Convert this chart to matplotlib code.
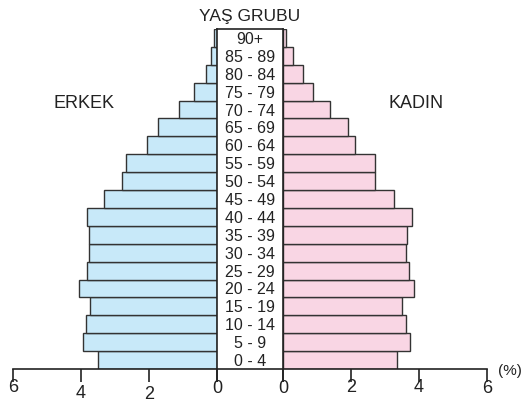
import matplotlib
matplotlib.use("Agg")
import matplotlib.pyplot as plt

plt.rcParams["font.family"] = ["Liberation Sans", "DejaVu Sans"]

# age groups, bottom to top
age_groups = ["0 - 4", "5 - 9", "10 - 14", "15 - 19", "20 - 24", "25 - 29",
              "30 - 34", "35 - 39", "40 - 44", "45 - 49", "50 - 54", "55 - 59",
              "60 - 64", "65 - 69", "70 - 74", "75 - 79", "80 - 84", "85 - 89",
              "90+"]
erkek = [3.51, 3.95, 3.86, 3.74, 4.05, 3.82, 3.76, 3.76, 3.81, 3.31, 2.78,
         2.68, 2.05, 1.73, 1.11, 0.67, 0.33, 0.17, 0.08]
kadin = [3.34, 3.74, 3.63, 3.51, 3.84, 3.71, 3.61, 3.66, 3.78, 3.27, 2.72,
         2.72, 2.11, 1.92, 1.38, 0.89, 0.58, 0.28, 0.09]
tick_vals = [6, 4, 2, 0]

W, H = 522, 403
BLUE = "#c8e9f9"
PINK = "#f9d6e4"
EDGE = "#333333"
TXT = "#222222"

fig = plt.figure(figsize=(W / 100, H / 100), dpi=100)


def px_box(x0, x1, y_top, y_bot):
    return [x0 / W, 1 - y_bot / H, (x1 - x0) / W, (y_bot - y_top) / H]


y_top, y_bot = 29, 369
ax_l = fig.add_axes(px_box(13, 217, y_top, y_bot))
ax_r = fig.add_axes(px_box(283, 487, y_top, y_bot))
ax_c = fig.add_axes(px_box(217, 283, y_top, y_bot))

ypos = [i + 0.5 for i in range(len(age_groups))]

ax_l.barh(ypos, erkek, height=1.0, color=BLUE, edgecolor=EDGE, linewidth=1)
ax_r.barh(ypos, kadin, height=1.0, color=PINK, edgecolor=EDGE, linewidth=1)
ax_l.set_xlim(6, 0)
ax_r.set_xlim(0, 6)

# label offsets below axis (points)
left_off = {6: 13.5, 4: 18, 2: 18.5, 0: 14}
right_off = {0: 14, 2: 13.5, 4: 13.5, 6: 14}

for ax, offs in ((ax_l, left_off), (ax_r, right_off)):
    ax.set_ylim(0, len(age_groups))
    for s in ("top", "left", "right"):
        ax.spines[s].set_visible(False)
    ax.spines["bottom"].set_linewidth(1.2)
    ax.spines["bottom"].set_color("#222222")
    ax.set_yticks([])
    ax.set_xticks(tick_vals)
    ax.set_xticklabels([])
    ax.tick_params(axis="x", direction="out", length=9, width=1.2,
                   color="#222222")
    for v in tick_vals:
        ax.annotate(str(v), xy=(v, 0), xycoords=("data", "axes fraction"),
                    xytext=(0, -offs[v]), textcoords="offset points",
                    ha="center", va="center", fontsize=13, color=TXT)

# centre box with age groups
ax_c.set_xlim(0, 1)
ax_c.set_ylim(0, len(age_groups))
ax_c.set_yticks([])
ax_c.set_xticks([0.0, 1.0])
ax_c.set_xticklabels([])
ax_c.tick_params(axis="x", direction="out", length=9, width=1.2,
                 color="#222222")
for s in ax_c.spines.values():
    s.set_linewidth(1.2)
    s.set_color("#222222")
for y, lab in zip(ypos, age_groups):
    ax_c.text(0.5, y, lab, ha="center", va="center_baseline",
              fontsize=11.5, color=TXT)

fig.text(250 / W, 1 - 17 / H, "YAŞ GRUBU", ha="center", va="center",
         fontsize=12.5, color=TXT)
fig.text(84 / W, 1 - 103 / H, "ERKEK", ha="center", va="center",
         fontsize=13, color=TXT)
fig.text(416 / W, 1 - 103 / H, "KADIN", ha="center", va="center",
         fontsize=13, color=TXT)
fig.text(510 / W, 1 - 371 / H, "(%)", ha="center", va="center",
         fontsize=11, color=TXT)

fig.savefig("out.png", dpi=100)
